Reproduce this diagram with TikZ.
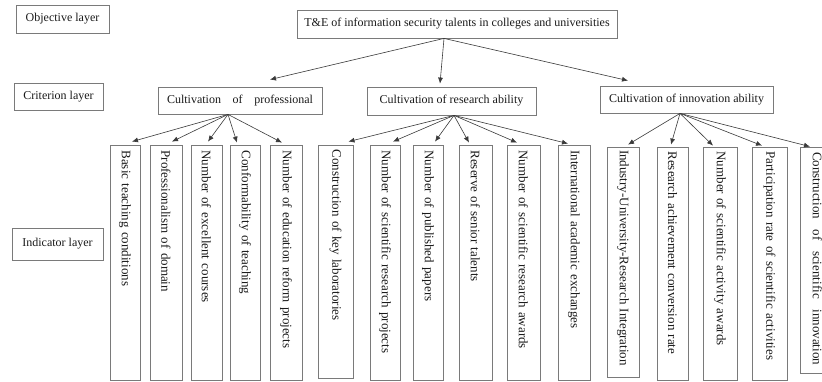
\documentclass[tikz,border=0pt]{standalone}
\usepackage{fontspec}
\setmainfont{Liberation Serif}
\usetikzlibrary{arrows.meta,calc}
\definecolor{boxgray}{HTML}{7A7A7A}
\definecolor{arrgray}{HTML}{3A3A3A}
\definecolor{txt}{HTML}{1A1A1A}
\begin{document}
\begin{tikzpicture}[x=1pt,y=-1pt,
  box/.style={draw=boxgray, line width=0.8pt, inner sep=0pt, text=txt,
    font=\fontsize{12}{14}\selectfont},
  ind/.style={box, rotate=-90, text width=224pt, align=left,
    font=\fontsize{13}{15}\selectfont},
  arr/.style={draw=arrgray, line width=0.6pt, -{Latex[length=6pt,width=5pt]}}]
\useasboundingbox[fill=white] (0,0) rectangle (822,381);

% layer labels
\node[box, minimum width=93pt, minimum height=28pt] (obj) at (62.5,19) {Objective layer};
\node[box, minimum width=89pt, minimum height=27pt] (cri) at (58.5,96.5) {Criterion layer};
\node[box, minimum width=91pt, minimum height=32pt] (indl) at (57.5,244) {Indicator layer};

% objective
\node[box, minimum width=320pt, minimum height=28pt] (top) at (457,24)
  {T\&E of information security talents in colleges and universities};

% criteria
\node[box, minimum width=164pt, minimum height=27pt] (c1) at (240,100.5)
  {\makebox[146pt]{Cultivation\hfill of\hfill professional}};
\node[box, minimum width=169pt, minimum height=28pt] (c2) at (451.5,101)
  {Cultivation of research ability};
\node[box, minimum width=173pt, minimum height=27pt] (c3) at (686.5,99.5)
  {Cultivation of innovation ability};

% indicators
\node[ind, minimum width=235pt, minimum height=30pt] (i1) at (125,262.5) {Basic teaching conditions};
\node[ind, minimum width=235pt, minimum height=32pt] (i2) at (166,262.5) {Professionalism of domain};
\node[ind, minimum width=235pt, minimum height=31pt] (i3) at (206.5,262.5) {Number of excellent courses};
\node[ind, minimum width=235pt, minimum height=30pt] (i4) at (245,262.5) {Conformability of teaching};
\node[ind, minimum width=235pt, minimum height=32pt] (i5) at (286,262.5) {Number of education reform projects};
\node[ind, minimum width=233pt, minimum height=35pt] (i6) at (335.5,261.5) {Construction of key laboratories};
\node[ind, minimum width=235pt, minimum height=30pt] (i7) at (385,262.5) {Number of scientific research projects};
\node[ind, minimum width=235pt, minimum height=30pt] (i8) at (428,262.5) {Number of published papers};
\node[ind, minimum width=235pt, minimum height=33pt] (i9) at (475.5,262.5) {Reserve of senior talents};
\node[ind, minimum width=235pt, minimum height=33pt] (i10) at (523.5,262.5) {Number of scientific research awards};
\node[ind, minimum width=235pt, minimum height=32pt] (i11) at (574,262.5) {International academic exchanges};
\node[ind, minimum width=230pt, minimum height=32pt] (i12) at (623,262) {Industry-University-Research Integration};
\node[ind, minimum width=233pt, minimum height=31pt] (i13) at (672.5,263.5) {Research achievement conversion rate};
\node[ind, minimum width=233pt, minimum height=34pt] (i14) at (720,263.5) {Number of scientific activity awards};
\node[ind, minimum width=233pt, minimum height=35pt] (i15) at (769.5,263.5) {Participation rate of scientific activities};
\node[ind, minimum width=226pt, minimum height=35pt, text width=216pt] (i16) at (817.5,260)
  {\makebox[213pt]{Construction\hfill of\hfill scientific\hfill innovation}};

% arrows from objective
\coordinate (t0) at ($(top.south)+(-13,0)$);
\draw[arr] (t0) -- ($(c1.north)+(30,-7)$);
\draw[arr] (t0) -- ($(c2.north)+(-11.5,-3)$);
\draw[arr] (t0) -- ($(c3.north)+(-58.5,-5)$);

% arrows from criteria
\coordinate (o1) at ($(c1.south)+(-12,0)$);
\coordinate (o2) at ($(c2.south)+(2.5,0)$);
\coordinate (o3) at ($(c3.south)+(-6.5,0)$);

\draw[arr] (o1) -- ($(i1.west)+(7,-3)$);
\draw[arr] (o1) -- ($(i2.west)+(6,-3)$);
\draw[arr] (o1) -- ($(i3.west)+(1.5,-3)$);
\draw[arr] (o1) -- ($(i4.west)+(-8,-2)$);
\draw[arr] (o1) -- ($(i5.west)+(-4,-2)$);

\draw[arr] (o2) -- ($(i6.west)+(13,-3)$);
\draw[arr] (o2) -- ($(i7.west)+(8,-3)$);
\draw[arr] (o2) -- ($(i8.west)+(7,-3)$);
\draw[arr] (o2) -- ($(i9.west)+(-6.5,-2)$);
\draw[arr] (o2) -- ($(i10.west)+(-6.5,-2)$);
\draw[arr] (o2) -- ($(i11.west)+(-6,-1)$);

\draw[arr] (o3) -- ($(i12.west)+(5,-2)$);
\draw[arr] (o3) -- ($(i13.west)+(-1.5,-2)$);
\draw[arr] (o3) -- ($(i14.west)+(-7,-1)$);
\draw[arr] (o3) -- ($(i15.west)+(-7.5,-1)$);
\draw[arr] (o3) -- ($(i16.west)+(-7.5,0)$);
\end{tikzpicture}
\end{document}
